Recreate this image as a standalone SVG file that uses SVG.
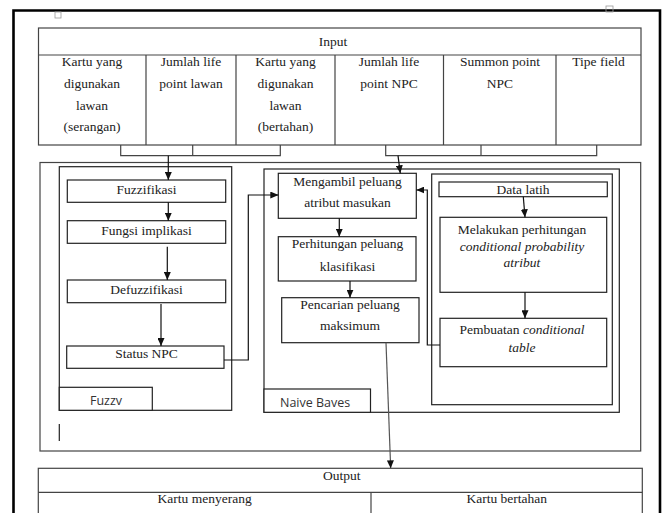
<svg xmlns="http://www.w3.org/2000/svg" width="666" height="513" viewBox="0 0 666 513">
<defs>
<marker id="ah" markerWidth="8" markerHeight="7" refX="8" refY="3.5" orient="auto" markerUnits="userSpaceOnUse">
<path d="M0,0 L8,3.5 L0,7 z" fill="#111"/>
</marker>
</defs>
<style>
.bx{fill:#fff;stroke:#222;stroke-width:1.2}
.gl{fill:none;stroke:#444;stroke-width:1.2}
.cn{fill:none;stroke:#111;stroke-width:1.2}
</style>
<rect width="666" height="513" fill="#fff"/>
<path d="M13.5,513 V10.5 H660 V513" fill="none" stroke="#000" stroke-width="2.6"/>
<rect x="55" y="12" width="6" height="6" fill="none" stroke="#999" stroke-width="0.8"/>
<rect x="606" y="6" width="7" height="6" fill="none" stroke="#999" stroke-width="0.8"/>

<g id="input">
<rect x="38.5" y="28" width="602.5" height="117" class="gl"/>
<line x1="38.5" y1="55" x2="641" y2="55" class="gl"/>
<line x1="146" y1="55" x2="146" y2="145" class="gl"/>
<line x1="236" y1="55" x2="236" y2="145" class="gl"/>
<line x1="335" y1="55" x2="335" y2="145" class="gl"/>
<line x1="443.5" y1="55" x2="443.5" y2="145" class="gl"/>
<line x1="556" y1="55" x2="556" y2="145" class="gl"/>
<text font-family="Liberation Serif" font-size="13.5" fill="#222" text-anchor="middle" x="333" y="46">Input</text>
<text font-family="Liberation Serif" font-size="13.5" fill="#222" text-anchor="middle" x="92" y="66">Kartu yang</text>
<text font-family="Liberation Serif" font-size="13.5" fill="#222" text-anchor="middle" x="92" y="88">digunakan</text>
<text font-family="Liberation Serif" font-size="13.5" fill="#222" text-anchor="middle" x="92" y="109.5">lawan</text>
<text font-family="Liberation Serif" font-size="13.5" fill="#222" text-anchor="middle" x="92" y="131">(serangan)</text>
<text font-family="Liberation Serif" font-size="13.5" fill="#222" text-anchor="middle" x="191" y="66">Jumlah life</text>
<text font-family="Liberation Serif" font-size="13.5" fill="#222" text-anchor="middle" x="191" y="88">point lawan</text>
<text font-family="Liberation Serif" font-size="13.5" fill="#222" text-anchor="middle" x="285.5" y="66">Kartu yang</text>
<text font-family="Liberation Serif" font-size="13.5" fill="#222" text-anchor="middle" x="285.5" y="88">digunakan</text>
<text font-family="Liberation Serif" font-size="13.5" fill="#222" text-anchor="middle" x="285.5" y="109.5">lawan</text>
<text font-family="Liberation Serif" font-size="13.5" fill="#222" text-anchor="middle" x="285.5" y="131">(bertahan)</text>
<text font-family="Liberation Serif" font-size="13.5" fill="#222" text-anchor="middle" x="389" y="66">Jumlah life</text>
<text font-family="Liberation Serif" font-size="13.5" fill="#222" text-anchor="middle" x="389" y="88">point NPC</text>
<text font-family="Liberation Serif" font-size="13.5" fill="#222" text-anchor="middle" x="500" y="66">Summon point</text>
<text font-family="Liberation Serif" font-size="13.5" fill="#222" text-anchor="middle" x="500" y="88">NPC</text>
<text font-family="Liberation Serif" font-size="13.5" fill="#222" text-anchor="middle" x="598.5" y="66">Tipe field</text>
</g>

<rect x="40" y="162.5" width="600.7" height="288.5" class="gl"/>
<line x1="59.3" y1="424" x2="59.3" y2="441" stroke="#222" stroke-width="1.2"/>

<g id="fuzzy">
<rect x="59.3" y="166.7" width="172.4" height="243.6" class="bx"/>
<rect x="59.3" y="387.3" width="93" height="23" class="bx"/>
<text font-family="Open Sans" font-size="12.5" fill="#333" text-anchor="middle" x="106" y="405">Fuzzv</text>
</g>
<g id="fuzzifikasi">
<rect x="67.3" y="180" width="158.4" height="22.3" class="bx"/>
<text font-family="Liberation Serif" font-size="13.5" fill="#222" text-anchor="middle" x="146.5" y="193.5">Fuzzifikasi</text>
</g>
<g id="fungsi">
<rect x="67.3" y="220.7" width="158.4" height="22.6" class="bx"/>
<text font-family="Liberation Serif" font-size="13.5" fill="#222" text-anchor="middle" x="146.5" y="234.5">Fungsi implikasi</text>
</g>
<g id="defuzzifikasi">
<rect x="67.3" y="280" width="158.4" height="22.7" class="bx"/>
<text font-family="Liberation Serif" font-size="13.5" fill="#222" text-anchor="middle" x="146.5" y="293.5">Defuzzifikasi</text>
</g>
<g id="status">
<rect x="66.7" y="346" width="157.3" height="22.3" class="bx"/>
<text font-family="Liberation Serif" font-size="13.5" fill="#222" text-anchor="middle" x="146.5" y="358">Status NPC</text>
</g>

<g id="naivebayes">
<rect x="264" y="169" width="355.3" height="243.3" class="bx"/>
<rect x="264" y="389" width="106.5" height="23.3" class="bx"/>
<text font-family="Open Sans" font-size="12.5" fill="#333" x="280" y="406.5">Naive Baves</text>
</g>
<g id="mengambil">
<rect x="278.3" y="173.3" width="138" height="45" class="bx"/>
<text font-family="Liberation Serif" font-size="13.5" fill="#222" text-anchor="middle" x="347.5" y="186">Mengambil peluang</text>
<text font-family="Liberation Serif" font-size="13.5" fill="#222" text-anchor="middle" x="347.5" y="207">atribut masukan</text>
</g>
<g id="perhitungan">
<rect x="278.3" y="236.7" width="137.7" height="44.3" class="bx"/>
<text font-family="Liberation Serif" font-size="13.5" fill="#222" text-anchor="middle" x="347.5" y="248">Perhitungan peluang</text>
<text font-family="Liberation Serif" font-size="13.5" fill="#222" text-anchor="middle" x="347.5" y="270.5">klasifikasi</text>
</g>
<g id="pencarian">
<rect x="281.7" y="297.7" width="137.3" height="45" class="bx"/>
<text font-family="Liberation Serif" font-size="13.5" fill="#222" text-anchor="middle" x="350" y="308.5">Pencarian peluang</text>
<text font-family="Liberation Serif" font-size="13.5" fill="#222" text-anchor="middle" x="350" y="330">maksimum</text>
</g>
<g id="training">
<rect x="431.7" y="174" width="180.6" height="230.7" class="bx"/>
</g>
<g id="datalatih">
<rect x="439" y="182" width="168.3" height="14.7" class="bx"/>
<text font-family="Liberation Serif" font-size="13.5" fill="#222" text-anchor="middle" x="523" y="194">Data latih</text>
</g>
<g id="melakukan">
<rect x="440" y="217.3" width="166.7" height="75" class="bx"/>
<text font-family="Liberation Serif" font-size="13.5" fill="#222" text-anchor="middle" x="522" y="234">Melakukan perhitungan</text>
<text font-family="Liberation Serif" font-size="13.5" fill="#222" text-anchor="middle" font-style="italic" x="522" y="251">conditional probability</text>
<text font-family="Liberation Serif" font-size="13.5" fill="#222" text-anchor="middle" font-style="italic" x="522" y="267">atribut</text>
</g>
<g id="pembuatan">
<rect x="440" y="318.3" width="166.7" height="48.4" class="bx"/>
<text font-family="Liberation Serif" font-size="13.5" fill="#222" text-anchor="middle" x="522" y="334">Pembuatan <tspan font-style="italic">conditional</tspan></text>
<text font-family="Liberation Serif" font-size="13.5" fill="#222" text-anchor="middle" font-style="italic" x="522" y="351.7">table</text>
</g>

<g id="output">
<rect x="38.3" y="468.3" width="604" height="60" class="gl"/>
<line x1="38.3" y1="492.3" x2="642.3" y2="492.3" class="gl"/>
<line x1="371" y1="492.3" x2="371" y2="513" class="gl"/>
<text font-family="Liberation Serif" font-size="13.5" fill="#222" text-anchor="middle" x="341.8" y="480">Output</text>
<text font-family="Liberation Serif" font-size="13.5" fill="#222" text-anchor="middle" x="204.6" y="503">Kartu menyerang</text>
<text font-family="Liberation Serif" font-size="13.5" fill="#222" text-anchor="middle" x="506.7" y="503">Kartu bertahan</text>
</g>

<g id="connectors">
<path d="M120.7,145 V155.7 H280.3 V145 M192.7,145 V155.7" class="gl"/>
<path d="M385.7,145 V155.7 H596.7 V145 M481,145 V155.7" class="gl"/>
<path d="M168.3,155.7 V180" class="cn" marker-end="url(#ah)"/>
<path d="M398,155.7 L400.3,173.3" class="cn" marker-end="url(#ah)"/>
<path d="M168.3,202.3 V220.7" class="cn" marker-end="url(#ah)"/>
<path d="M167.3,246.7 V280" class="cn" marker-end="url(#ah)"/>
<path d="M161,304 V346" class="cn" marker-end="url(#ah)"/>
<path d="M224,360 H248.3 V195 H278.3" class="cn" marker-end="url(#ah)"/>
<path d="M339.3,218.3 V236.7" class="cn" marker-end="url(#ah)"/>
<path d="M350,281 V297.7" class="cn" marker-end="url(#ah)"/>
<path d="M523.3,196.7 L525,217.3" class="cn" marker-end="url(#ah)"/>
<path d="M525,292.3 V318.3" class="cn" marker-end="url(#ah)"/>
<path d="M440,345 H427.3 V190 H416.3" class="cn" marker-end="url(#ah)"/>
<path d="M386,342.7 L390.7,468.3" fill="none" stroke="#555" stroke-width="1.2" marker-end="url(#ah)"/>
</g>
</svg>
